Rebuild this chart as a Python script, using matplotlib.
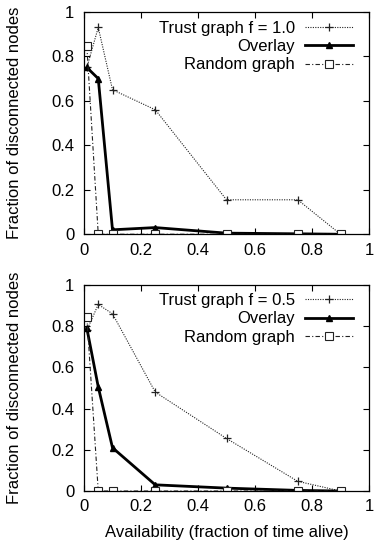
import numpy as np
import matplotlib
matplotlib.use("Agg")
import matplotlib.pyplot as plt
from matplotlib.ticker import FuncFormatter

plt.rcParams['font.family'] = ['Liberation Sans', 'DejaVu Sans']
plt.rcParams['font.size'] = 12

# availability values (x)
avail = [0.01, 0.05, 0.1, 0.25, 0.5, 0.75, 0.9]

# top panel, f = 1.0
trust_f10 = [0.75, 0.93, 0.65, 0.56, 0.155, 0.155, 0.0]
overlay_top = [0.75, 0.70, 0.02, 0.03, 0.005, 0.002, 0.0]
random_top = [0.845, 0.0, 0.0, 0.0, 0.0, 0.0, 0.0]

# bottom panel, f = 0.5
trust_f05 = [0.78, 0.905, 0.86, 0.48, 0.255, 0.047, 0.0]
overlay_bot = [0.79, 0.505, 0.21, 0.03, 0.014, 0.003, 0.0]
random_bot = [0.845, 0.0, 0.0, 0.0, 0.0, 0.0, 0.0]

ticks = [0, 0.2, 0.4, 0.6, 0.8, 1.0]
fmt = FuncFormatter(lambda v, p: "%g" % v)

fig = plt.figure(figsize=(3.75, 5.41), dpi=100)
ax1 = fig.add_axes([0.224, 0.567, 0.760, 0.411])
ax2 = fig.add_axes([0.224, 0.0924, 0.760, 0.381])


def panel(ax, trust, overlay, rnd, trust_label):
    ax.plot(avail, trust, color='#222222', lw=0.8, ls=(0, (1, 1.2)),
            marker='+', ms=5.5, mew=0.9, label=trust_label)
    ax.plot(avail, overlay, color='black', lw=2.0, ls='-',
            marker='^', ms=4, label='Overlay')
    ax.plot(avail, rnd, color='#222222', lw=0.8, ls=(0, (4, 2, 1, 2)),
            marker='s', ms=5.5, mfc='white', mew=0.8, label='Random graph')
    ax.set_xlim(0, 1)
    ax.set_ylim(0, 1)
    ax.set_xticks(ticks)
    ax.set_yticks(ticks)
    ax.xaxis.set_major_formatter(fmt)
    ax.yaxis.set_major_formatter(fmt)
    ax.tick_params(direction='in', top=True, right=True, length=4, width=0.8,
                   labelsize=12, pad=6)
    ax.tick_params(axis='y', pad=7)
    for s in ax.spines.values():
        s.set_linewidth(0.9)
    ax.set_ylabel('Fraction of disconnected nodes', fontsize=12, labelpad=21)
    ax.legend(loc='upper right', frameon=False, markerfirst=False,
              handlelength=2.9, handletextpad=0.6, labelspacing=0.2,
              borderaxespad=0.0, borderpad=0.0,
              bbox_to_anchor=(0.945, 0.96), fontsize=12)


panel(ax1, trust_f10, overlay_top, random_top, 'Trust graph f = 1.0')
panel(ax2, trust_f05, overlay_bot, random_bot, 'Trust graph f = 0.5')
ax2.set_xlabel('Availability (fraction of time alive)', fontsize=12, labelpad=8)

fig.savefig('out.png', dpi=100)
